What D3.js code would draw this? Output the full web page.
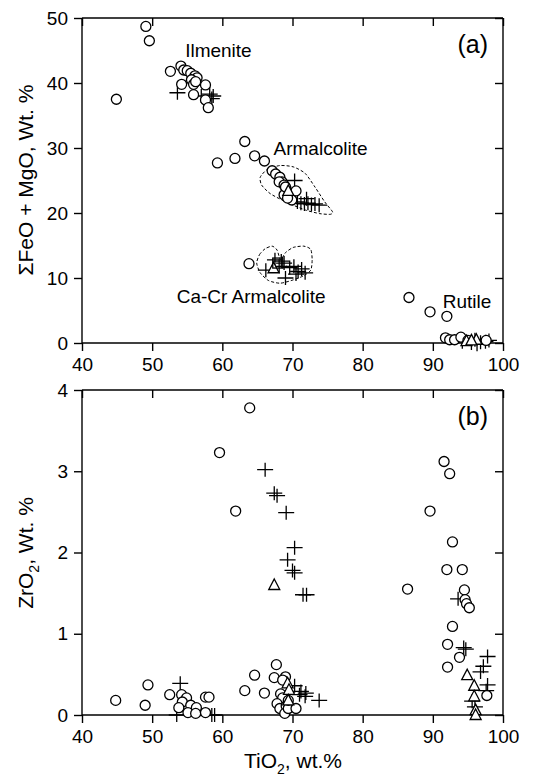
<!DOCTYPE html>
<html>
<head>
<meta charset="utf-8">
<script src="https://cdn.jsdelivr.net/npm/d3@7"></script>
<style>
  body { margin: 0; background: #fff; }
  text { font-family: "Liberation Sans", Arial, sans-serif; fill: #000; }
</style>
</head>
<body>
<div id="wrapper"></div>
<script>
// panel (a): [TiO2, FeO+MgO]
const aCircles = [
  [49.1, 48.7], [49.6, 46.5], [44.9, 37.5],
  [52.6, 41.8], [54.1, 42.6], [54.5, 42.0], [55.0, 41.9], [55.5, 41.5], [56.1, 41.1], [56.4, 40.8],
  [54.2, 39.8], [55.6, 40.5], [55.9, 39.8], [56.2, 40.2], [57.6, 39.7], [55.9, 38.2], [57.6, 37.4], [58.0, 36.2],
  [59.3, 27.7], [61.8, 28.4], [63.2, 31.0], [64.6, 28.8], [66.0, 28.0],
  [67.1, 26.5], [67.6, 26.0], [68.2, 25.5], [68.5, 24.8], [68.1, 24.8], [68.8, 24.3], [69.1, 23.7],
  [68.8, 22.8], [69.5, 22.6], [70.5, 23.4], [69.9, 22.0], [69.3, 22.3], [69.0, 24.0],
  [63.8, 12.2],
  [86.6, 7.0], [89.6, 4.8], [92.0, 4.1], [91.8, 0.8], [92.4, 0.5], [93.1, 0.5], [94.0, 0.9], [95.0, 0.4], [97.6, 0.4]
];
const aPlus = [
  [53.6, 38.5], [57.0, 38.0], [58.2, 38.3], [58.7, 38.0], [58.5, 37.6],
  [70.3, 25.0], [70.7, 21.7], [71.2, 21.5], [71.7, 21.4], [72.2, 21.5], [72.7, 21.3], [73.2, 21.4], [73.8, 21.2], [72.0, 22.2],
  [66.2, 11.2], [67.5, 12.8], [68.1, 11.8], [68.8, 12.3], [69.0, 10.0], [69.6, 11.6], [70.2, 11.8],
  [70.8, 11.0], [71.3, 11.4], [71.8, 10.8], [70.5, 10.6], [68.4, 12.6],
  [94.2, 0.2], [95.5, 0.0], [96.3, -0.2], [96.8, 0.1], [97.5, 0.2], [98.0, 0.4], [96.0, 0.5]
];
const aTriangles = [[69.4, 23.4], [67.3, 11.5], [94.8, 0.3], [96.2, 0.5], [95.5, 0.4]];
const aSquares = [[67.9, 12.3]];
const armalcoliteOutline = [
  [65.4, 25.5], [66.4, 26.7], [68.2, 27.3], [70.1, 27.1], [71.8, 26.1], [73.2, 24.0], [74.6, 21.7],
  [75.7, 20.2], [75.4, 19.8], [73.9, 19.9], [72.0, 20.4], [70.1, 21.2], [68.5, 22.0], [66.8, 23.0], [65.6, 24.3]
];
const caCrOutline = [
  [64.9, 12.3], [65.3, 13.6], [66.1, 14.5], [67.1, 14.9], [67.8, 14.3], [68.3, 12.8], [69.0, 13.9],
  [70.1, 14.7], [71.6, 14.9], [72.6, 14.4], [72.8, 12.8], [72.6, 11.2], [71.5, 10.3], [69.8, 9.6],
  [68.2, 9.2], [66.6, 9.6], [65.4, 10.8]
];
const aLabels = [
  { text: "Ilmenite", x: 54.7, y: 44.0 },
  { text: "Armalcolite", x: 67.3, y: 28.9 },
  { text: "Ca-Cr Armalcolite", x: 53.5, y: 6.1 },
  { text: "Rutile", x: 91.4, y: 5.4 }
];

// panel (b): [TiO2, ZrO2]
const bCircles = [
  [44.8, 0.18], [49.0, 0.12], [49.4, 0.37], [52.5, 0.25], [54.2, 0.25], [54.9, 0.21], [54.3, 0.16], [53.8, 0.09],
  [55.5, 0.12], [55.1, 0.03], [56.3, 0.09], [56.2, 0.02], [57.6, 0.22], [58.1, 0.22], [57.6, 0.03],
  [63.9, 3.78], [59.6, 3.23], [61.9, 2.51], [63.2, 0.30], [64.6, 0.49], [66.0, 0.27], [67.7, 0.62], [67.4, 0.46],
  [69.0, 0.47], [68.3, 0.26], [68.6, 0.21], [67.8, 0.14], [68.2, 0.08], [69.1, 0.11], [68.9, 0.02], [69.4, 0.08],
  [70.5, 0.08], [69.4, 0.18], [68.6, 0.43],
  [91.6, 3.12], [92.4, 2.97], [89.6, 2.51], [92.8, 2.13], [92.0, 1.79], [94.2, 1.79], [86.4, 1.55], [94.5, 1.54],
  [94.6, 1.42], [94.8, 1.37], [95.2, 1.32], [92.8, 1.09], [92.1, 0.87], [93.8, 0.71], [92.1, 0.59], [97.7, 0.24]
];
const bPlus = [
  [54.0, 0.39], [53.5, 0.0], [58.5, 0.0], [58.9, 0.0],
  [66.1, 3.02], [67.4, 2.73], [67.8, 2.70], [69.1, 2.49], [70.3, 2.06], [69.3, 1.91], [70.0, 1.78], [70.3, 1.75],
  [71.5, 1.48], [72.0, 1.48], [70.3, 0.36], [71.2, 0.29], [71.9, 0.27], [71.8, 0.23], [73.8, 0.18], [71.0, 0.25],
  [93.6, 1.43], [94.4, 0.83], [94.7, 0.81], [97.8, 0.72], [97.2, 0.60], [96.8, 0.53], [97.8, 0.37],
  [95.6, 0.17], [96.0, 0.10], [97.6, 0.30]
];
const bTriangles = [
  [67.4, 1.60], [69.3, 0.39], [69.5, 0.31], [69.4, 0.18],
  [94.9, 0.49], [95.9, 0.36], [95.9, 0.23], [96.1, 0.06], [96.1, 0.0]
];

const xTicks = [40, 50, 60, 70, 80, 90, 100];
const aYTicks = [0, 10, 20, 30, 40, 50];
const bYTicks = [0, 1, 2, 3, 4];

const width = 540;
const height = 782;

const svg = d3.select("#wrapper")
  .append("svg")
  .attr("width", width)
  .attr("height", height);

const left = 82, right = 503;

function drawPanel({ yTop, yBottom, yDomain, yTicks, circles, plus, triangles, squares, outlines, labels, tag }) {
  const x = d3.scaleLinear().domain([40, 100]).range([left, right]);
  const y = d3.scaleLinear().domain(yDomain).range([yBottom, yTop]);
  const g = svg.append("g");

  // frame lines (top + right, with inward ticks)
  g.append("g")
    .attr("transform", `translate(0,${yTop})`)
    .call(d3.axisBottom(x).tickValues(xTicks).tickSize(8).tickFormat(""))
    .call(a => a.select(".domain").attr("d", `M${left},0H${right}`));
  g.append("g")
    .attr("transform", `translate(${right},0)`)
    .call(d3.axisLeft(y).tickValues(yTicks).tickSize(8).tickFormat(""))
    .call(a => a.select(".domain").attr("d", `M0,${yBottom}V${yTop}`));

  // bottom + left axes with outward ticks
  g.append("g")
    .attr("transform", `translate(0,${yBottom})`)
    .call(d3.axisBottom(x).tickValues(xTicks).tickSize(8).tickPadding(7).tickFormat(d3.format("d")))
    .call(a => a.select(".domain").attr("d", `M${left},0H${right}`));
  g.append("g")
    .attr("transform", `translate(${left},0)`)
    .call(d3.axisLeft(y).tickValues(yTicks).tickSize(8).tickPadding(6).tickFormat(d3.format("d")))
    .call(a => a.select(".domain").attr("d", `M0,${yBottom}V${yTop}`));

  g.selectAll(".domain, .tick line").attr("stroke", "#000").attr("stroke-width", 1.4);
  g.selectAll(".tick text")
    .style("font-family", '"Liberation Sans", Arial, sans-serif')
    .style("font-size", "19px")
    .attr("fill", "#000");

  // dashed field outlines
  const outline = d3.line()
    .x(d => x(d[0]))
    .y(d => y(d[1]))
    .curve(d3.curveCardinalClosed.tension(0.3));

  g.append("g")
    .selectAll("path")
    .data(outlines || [])
    .join("path")
    .attr("d", outline)
    .attr("fill", "none")
    .attr("stroke", "#000")
    .attr("stroke-width", 1)
    .attr("stroke-dasharray", "3,2");

  const marks = g.append("g").attr("stroke", "#000").attr("stroke-width", 1.3);

  marks.selectAll(".plus")
    .data(plus)
    .join("path")
    .attr("class", "plus")
    .attr("fill", "none")
    .attr("d", d => {
      const cx = x(d[0]), cy = y(d[1]);
      return `M${cx - 8},${cy}H${cx + 8}M${cx},${cy - 7}V${cy + 7}`;
    });

  marks.selectAll(".circ")
    .data(circles)
    .join("circle")
    .attr("class", "circ")
    .attr("fill", "#fff")
    .attr("cx", d => x(d[0]))
    .attr("cy", d => y(d[1]))
    .attr("r", 5);

  marks.selectAll(".tri")
    .data(triangles)
    .join("path")
    .attr("class", "tri")
    .attr("fill", "#fff")
    .attr("d", d => {
      const cx = x(d[0]), cy = y(d[1]);
      return `M${cx},${cy - 6}L${cx + 5.5},${cy + 4.5}L${cx - 5.5},${cy + 4.5}Z`;
    });

  marks.selectAll(".sq")
    .data(squares || [])
    .join("rect")
    .attr("class", "sq")
    .attr("fill", "none")
    .attr("x", d => x(d[0]) - 5)
    .attr("y", d => y(d[1]) - 5)
    .attr("width", 10)
    .attr("height", 10);

  g.selectAll(".lbl")
    .data(labels || [])
    .join("text")
    .attr("class", "lbl")
    .attr("x", d => x(d.x))
    .attr("y", d => y(d.y))
    .style("font-size", "19px")
    .text(d => d.text);

  g.append("text")
    .attr("x", right - 15)
    .attr("y", yTop + 35)
    .attr("text-anchor", "end")
    .style("font-size", "25px")
    .text(tag);
}

// panel (a)
drawPanel({
  yTop: 18, yBottom: 343, yDomain: [0, 50], yTicks: aYTicks,
  circles: aCircles, plus: aPlus, triangles: aTriangles, squares: aSquares,
  outlines: [armalcoliteOutline, caCrOutline], labels: aLabels, tag: "(a)"
});

svg.append("text")
  .attr("transform", "translate(33,180) rotate(-90)")
  .attr("text-anchor", "middle")
  .style("font-size", "21px")
  .text("\u03A3FeO + MgO, Wt. %");

// panel (b)
drawPanel({
  yTop: 390, yBottom: 715, yDomain: [0, 4], yTicks: bYTicks,
  circles: bCircles, plus: bPlus, triangles: bTriangles, tag: "(b)"
});

const yLabB = svg.append("text")
  .attr("transform", "translate(33,553) rotate(-90)")
  .attr("text-anchor", "middle")
  .style("font-size", "21px");
yLabB.append("tspan").text("ZrO");
yLabB.append("tspan").attr("dy", 6).style("font-size", "14px").text("2");
yLabB.append("tspan").attr("dy", -6).text(", Wt. %");

const xLab = svg.append("text")
  .attr("x", 293)
  .attr("y", 768)
  .attr("text-anchor", "middle")
  .style("font-size", "21px");
xLab.append("tspan").text("TiO");
xLab.append("tspan").attr("dy", 6).style("font-size", "14px").text("2");
xLab.append("tspan").attr("dy", -6).text(", wt.%");
</script>
</body>
</html>
